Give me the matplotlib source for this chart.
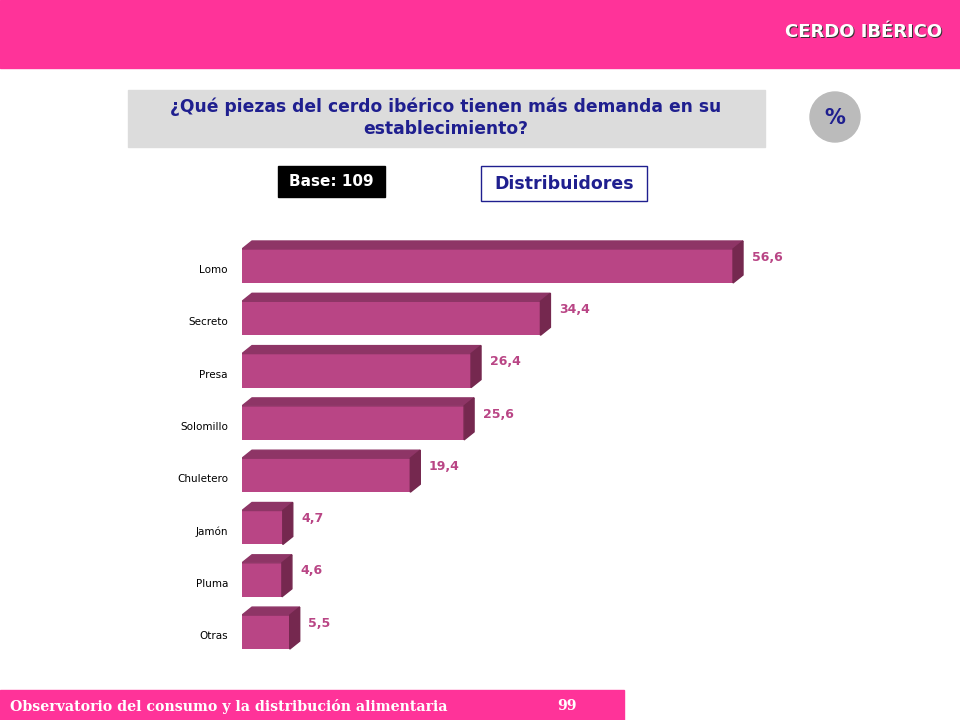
import matplotlib
matplotlib.use("Agg")
import matplotlib.pyplot as plt
from matplotlib.patches import Rectangle, Polygon, Circle

categorias = ["Lomo", "Secreto", "Presa", "Solomillo", "Chuletero", "Jamón", "Pluma", "Otras"]
valores = [56.6, 34.4, 26.4, 25.6, 19.4, 4.7, 4.6, 5.5]
etiquetas = ["56,6", "34,4", "26,4", "25,6", "19,4", "4,7", "4,6", "5,5"]

W, H = 960, 720
fig = plt.figure(figsize=(9.6, 7.2), dpi=100)
bg = fig.add_axes([0, 0, 1, 1])
bg.set_xlim(0, W)
bg.set_ylim(H, 0)
bg.axis("off")

pink = "#FF3399"
navy = "#1F1F8F"
bg.add_patch(Rectangle((0, 0), W, 68, color=pink))
for dx, dy, c in [(1.5, 1.5, "#333333"), (0, 0, "white")]:
    bg.text(942 + dx, 32 + dy, "CERDO IBÉRICO", color=c, fontsize=13, fontweight="bold",
            ha="right", va="center")
bg.add_patch(Rectangle((128, 90), 637, 57, color="#DCDCDC"))
bg.text(446, 118, "¿Qué piezas del cerdo ibérico tienen más demanda en su\nestablecimiento?",
        color=navy, fontsize=12.3, fontweight="bold", ha="center", va="center", linespacing=1.25)
bg.add_patch(Circle((835, 117), 25, color="#BBBBBB"))
bg.text(835, 118, "%", color=navy, fontsize=15, fontweight="bold", ha="center", va="center")
bg.add_patch(Rectangle((278, 166), 107, 31, color="black"))
bg.text(331, 182, "Base: 109", color="white", fontsize=11, fontweight="bold", ha="center", va="center")
bg.add_patch(Rectangle((481, 166), 166, 35, facecolor="white", edgecolor=navy, lw=1))
bg.text(564, 184, "Distribuidores", color=navy, fontsize=12.5, fontweight="bold", ha="center", va="center")
bg.add_patch(Rectangle((0, 690), 624, 30, color=pink))
bg.text(10, 706, "Observatorio del consumo y la distribución alimentaria", color="white",
        fontsize=10.2, fontweight="bold", family="DejaVu Serif", va="center")
bg.text(567, 706, "99", color="white", fontsize=10.2, fontweight="bold", family="DejaVu Serif",
        ha="center", va="center")

# chart axes: left edge at px 242, 8.675 px per unit, rows 52.3 px apart
pxu = 8.675
rowpx = 52.3
x0, x1 = 242, 842
y0, y1 = 230, 660
ax = fig.add_axes([x0 / W, 1 - y1 / H, (x1 - x0) / W, (y1 - y0) / H])
ax.set_xlim(0, (x1 - x0) / pxu)
ax.set_ylim((y1 - 266) / rowpx, (y0 - 266) / rowpx)
ax.axis("off")

front = "#B94585"
top = "#8E3566"
side = "#75284F"
h = 34 / rowpx
ddx = 10 / pxu
ddy = 8 / rowpx
ys = list(range(len(categorias)))
ax.barh(ys, valores, height=h, color=front, left=0)
for y, v, lab, cat in zip(ys, valores, etiquetas, categorias):
    t = y - h / 2
    b = y + h / 2
    ax.add_patch(Polygon([(0, t), (v, t), (v + ddx, t - ddy), (ddx, t - ddy)], color=top))
    ax.add_patch(Polygon([(v, t), (v + ddx, t - ddy), (v + ddx, b - ddy), (v, b)], color=side))
    ax.text(v + ddx + 1.0, y - 0.17, lab, color=front, fontsize=9, fontweight="bold", va="center")
    ax.text(-14 / pxu, y + 0.08, cat, color="black", fontsize=7.5, ha="right", va="center", clip_on=False)

fig.savefig("out.png", dpi=100)
